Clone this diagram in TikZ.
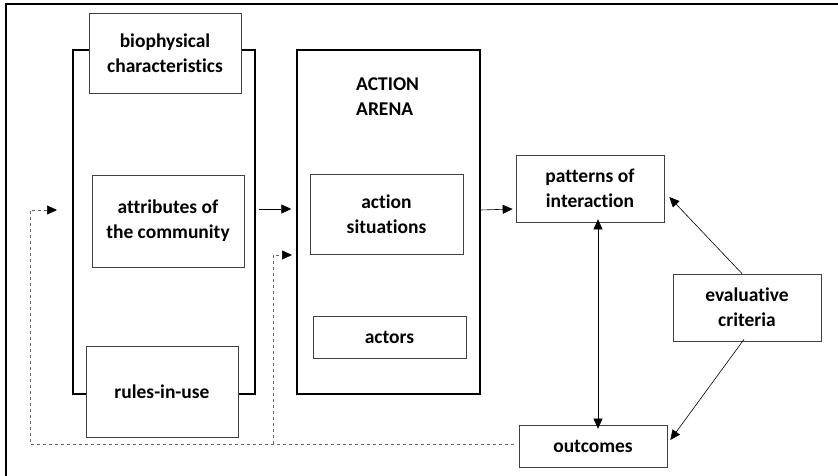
\documentclass[tikz,border=0pt]{standalone}
\usepackage{fontspec}
\setmainfont[Ligatures=NoCommon]{Carlito}
\usetikzlibrary{arrows.meta}

\tikzset{
  frame/.style={draw=black, line width=1.4pt},
  item/.style={draw=black!75, fill=white, line width=0.7pt, align=center,
    font=\bfseries\fontsize{19.5}{25}\selectfont, inner sep=0pt},
  link/.style={-{Triangle[length=10pt,width=9pt]}, line width=0.6pt},
  feedback/.style={-{Triangle[length=10pt,width=9pt,color=black]}, draw=black!60, dashed, line width=0.6pt}
}

\begin{document}
\begin{tikzpicture}[x=1pt, y=-1pt]
\useasboundingbox (0,0) rectangle (838,476);

% page edges
\draw[line width=1.2pt] (6,476) -- (6,4) -- (838,4);

% the two big boxes
\node[frame, minimum width=182pt, minimum height=344pt] (setting) at (164,222) {};
\node[frame, minimum width=183pt, minimum height=344pt] (arena) at (388.5,222) {};
\node[font=\bfseries\fontsize{19.5}{25}\selectfont, align=left, anchor=north west, inner sep=0pt]
  (arenalabel) at (356,78) {ACTION\\ARENA};

% boxes
\node[item, minimum width=152pt, minimum height=80pt] (bio) at (165,53) {biophysical\\characteristics};
\node[item, minimum width=152pt, minimum height=92pt] (comm) at (168,221) {attributes of\\the community};
\node[item, minimum width=152pt, minimum height=91pt] (rules) at (162,391.5) {rules-in-use};
\node[item, minimum width=153pt, minimum height=80pt] (sit) at (386.5,214) {action\\situations};
\node[item, minimum width=153pt, minimum height=42pt] (actors) at (389.5,337) {actors};
\node[item, minimum width=148pt, minimum height=67pt] (pat) at (590,188.5) {patterns of\\interaction};
\node[item, minimum width=148pt, minimum height=67pt] (eval) at (747,307.5) {evaluative\\criteria};
\node[item, minimum width=148pt, minimum height=42pt] (out) at (593,446) {outcomes};

% arrows
\draw[link] ([xshift=3pt]setting.east |- 0,209) -- ([xshift=-5pt]arena.west |- 0,209);
\draw[link] (arena.east |- 0,210) -- ([xshift=-3pt]pat.west |- 0,209);
\draw[link, {Triangle[length=10pt,width=9pt]}-{Triangle[length=10pt,width=9pt]}]
  ([yshift=3pt]pat.south -| 598,0) -- ([yshift=-4pt]out.north -| 598,0);
\draw[link] (eval.north -| 742,0) -- ([xshift=5pt]pat.east |- 0,197);
\draw[link] ([yshift=2pt]eval.south -| 744,0) -- ([xshift=3pt]out.east |- 0,440);

% feedback from outcomes
\coordinate (fbleft) at (30,444);
\coordinate (fbmid) at (273,444);
\draw[feedback] ([xshift=-5pt]out.west |- fbleft) -- (fbleft) -- (30,210) -- (57,210);
\draw[feedback] (fbmid) -- (273,255) -- (292,255);
\end{tikzpicture}
\end{document}
